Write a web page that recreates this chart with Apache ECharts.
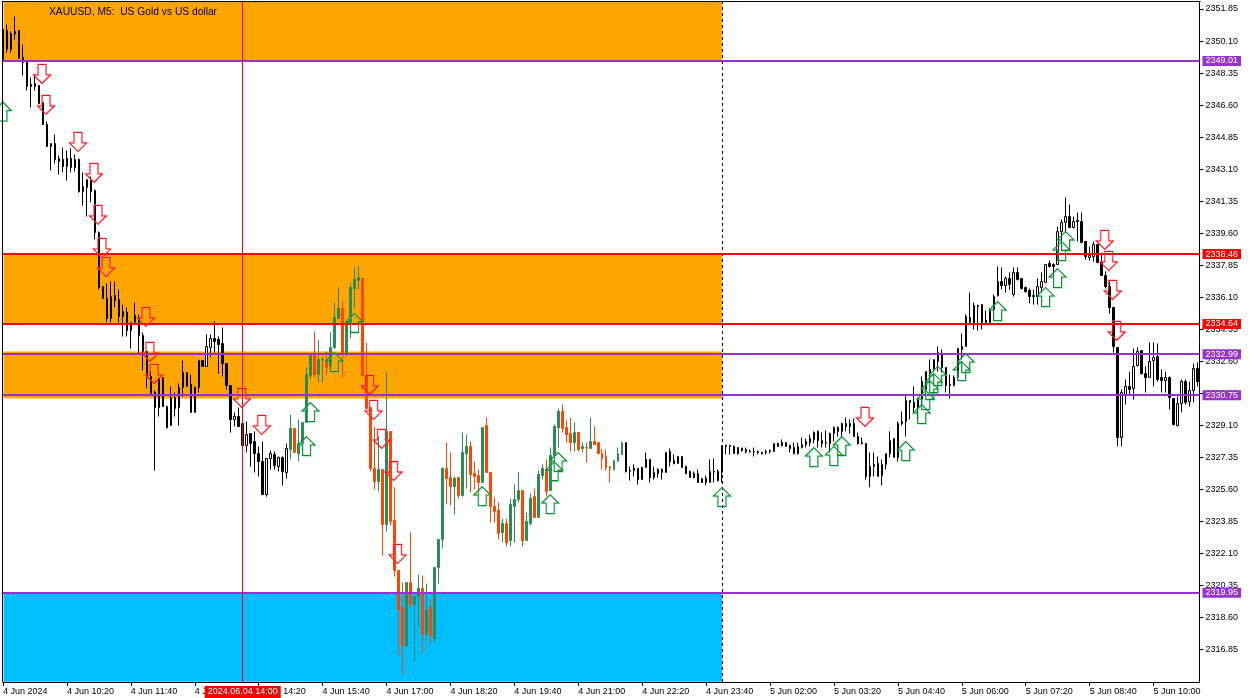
<!DOCTYPE html>
<html><head><meta charset="utf-8">
<style>html,body{margin:0;padding:0;background:#fff}#c{width:1254px;height:698px}</style>
<script src="https://cdn.jsdelivr.net/npm/echarts@6/dist/echarts.min.js"></script>
</head><body><div id="c"></div>
<script>
const chartTitle = 'XAUUSD, M5:  US Gold vs US dollar';
const priceTicks = [2351.85,2350.10,2348.35,2346.60,2344.85,2343.10,2341.35,2339.60,2337.85,2336.10,2334.35,2332.60,2330.85,2329.10,2327.35,2325.60,2323.85,2322.10,2320.35,2318.60,2316.85];
const timeTickBars = [0,16,32,48,64,80,96,112,128,144,160,176,192,208,224,240,256,272,288];
const timeTickLabels = ['4 Jun 2024','4 Jun 10:20','4 Jun 11:40','4 Jun 13:00','4 Jun 14:20','4 Jun 15:40','4 Jun 17:00','4 Jun 18:20','4 Jun 19:40','4 Jun 21:00','4 Jun 22:20','4 Jun 23:40','5 Jun 02:00','5 Jun 03:20','5 Jun 04:40','5 Jun 06:00','5 Jun 07:20','5 Jun 08:40','5 Jun 10:00'];
// rows: open, close, low, high
const morningBars = [
[2350.73,2349.09,2347.62,2351.01],[2350.68,2349.64,2349.47,2351.01],[2349.64,2350.51,2349.47,2350.62],[2350.49,2350.62,2350.18,2351.44],
[2350.68,2349.15,2349.15,2350.68],[2349.20,2348.93,2348.22,2349.91],[2348.98,2347.62,2347.40,2348.98],[2347.73,2347.62,2346.47,2348.11],
[2347.78,2347.62,2347.40,2348.27],[2347.67,2346.69,2346.64,2347.67],[2346.74,2345.54,2345.54,2346.74],[2345.54,2344.34,2344.34,2345.70],
[2344.34,2344.50,2343.03,2344.50],[2344.50,2343.63,2343.41,2344.99],[2343.68,2343.52,2342.81,2343.85],[2343.63,2343.24,2342.92,2344.28],
[2343.24,2343.68,2342.48,2344.12],[2343.68,2343.19,2342.92,2344.23],[2343.19,2343.63,2342.97,2343.90],[2343.63,2341.88,2341.82,2343.68],
[2341.88,2342.15,2341.11,2342.92],[2342.10,2342.53,2340.51,2342.53],[2342.48,2341.88,2341.28,2342.70],[2341.93,2339.64,2339.26,2341.99],
[2339.64,2336.63,2336.52,2339.69],[2336.69,2336.03,2336.03,2336.69],[2336.03,2334.94,2334.73,2336.85],[2334.94,2336.14,2334.73,2336.96],
[2336.19,2335.92,2335.54,2336.96],[2335.98,2335.05,2334.73,2336.52],[2335.05,2335.32,2333.96,2335.70],[2335.27,2334.28,2333.96,2335.54],
[2334.28,2334.73,2333.30,2334.73],[2334.73,2335.11,2334.73,2335.81],[2335.00,2334.01,2333.03,2335.16],[2334.01,2333.14,2332.10,2334.18],
[2333.14,2331.77,2331.12,2333.14],[2331.77,2330.84,2330.84,2332.04],[2330.90,2330.07,2326.63,2331.01],[2330.07,2331.66,2329.59,2331.72],
[2331.72,2330.13,2330.13,2331.72],[2330.13,2328.98,2328.93,2330.18],[2329.09,2330.62,2329.09,2331.23],[2330.62,2330.02,2329.59,2330.90],
[2330.07,2331.17,2329.09,2331.39],[2331.17,2331.99,2330.68,2332.64],[2331.99,2331.23,2331.23,2331.99],[2331.34,2329.81,2329.81,2331.88],
[2329.81,2331.17,2329.81,2331.23],[2331.17,2332.64,2330.90,2332.64],[2332.64,2332.32,2332.32,2332.64],[2332.32,2333.41,2332.32,2334.07],
[2333.36,2333.85,2332.81,2334.07],[2333.85,2333.68,2333.08,2334.78],[2333.79,2333.52,2331.93,2333.96],[2333.57,2332.48,2331.77,2334.45],
[2332.48,2331.28,2331.06,2332.48],[2331.28,2329.42,2328.71,2331.28],[2329.42,2329.59,2329.04,2329.81],[2329.59,2329.04,2329.04,2330.07],
[2329.20,2328.00,2328.00,2329.20],[2328.00,2328.60,2327.62,2329.31],[2328.66,2328.11,2326.85,2328.66],[2328.22,2327.56,2326.53,2328.77],
[2327.56,2327.13,2326.31,2327.95],[2327.13,2325.32,2325.32,2328.22],[2325.32,2327.29,2325.21,2327.29],[2327.29,2327.56,2326.69,2327.73],
[2327.51,2326.91,2326.69,2327.67],[2326.85,2327.35,2326.58,2327.40],[2327.35,2326.58,2325.82,2327.40],[2326.53,2327.84,2326.20,2328.11]
];
const sessionBars = [
[2327.78,2328.93,2327.24,2329.69],[2328.93,2327.62,2327.62,2328.93],[2327.56,2328.11,2327.13,2329.42],[2328.11,2329.26,2327.73,2329.26],
[2329.26,2331.88,2329.26,2332.26],[2331.83,2332.92,2331.61,2332.92],[2332.92,2331.88,2331.72,2334.23],[2331.88,2332.70,2331.45,2333.74],
[2332.67,2332.70,2331.45,2332.86],[2332.64,2332.26,2331.83,2333.14],[2332.32,2333.36,2332.32,2334.18],[2333.36,2335.00,2333.25,2335.81],
[2334.94,2335.49,2334.94,2336.63],[2335.49,2332.97,2331.72,2335.92],[2333.03,2334.73,2332.86,2334.73],[2334.73,2336.63,2333.85,2336.90],
[2336.58,2337.07,2335.49,2337.78],[2337.02,2337.18,2336.52,2337.84],[2337.13,2331.83,2331.77,2337.18],[2331.83,2330.02,2330.02,2333.63],
[2330.07,2326.75,2326.58,2330.07],[2326.75,2326.03,2325.60,2329.04],[2326.03,2326.69,2325.49,2328.49],[2326.69,2323.68,2321.99,2326.69],
[2323.68,2328.77,2323.30,2332.04],[2328.77,2323.85,2323.63,2328.77],[2323.90,2321.17,2320.84,2325.71],[2321.17,2319.04,2316.53,2321.17],
[2319.15,2317.07,2315.49,2320.51],[2317.07,2320.51,2316.96,2320.51],[2320.51,2319.31,2319.15,2323.25],[2319.31,2319.75,2316.20,2319.75],
[2319.75,2320.19,2318.11,2320.95],[2320.19,2317.67,2316.69,2320.90],[2317.73,2318.99,2317.40,2320.46],[2319.15,2317.62,2317.13,2319.59],
[2317.46,2321.34,2317.24,2321.34],[2321.34,2322.87,2320.46,2322.87],[2322.87,2326.75,2322.37,2326.80],[2326.75,2326.20,2324.78,2328.16],
[2326.25,2325.76,2324.72,2327.62],[2325.76,2326.20,2324.23,2326.31],[2326.25,2325.27,2325.10,2326.25],[2325.27,2327.62,2325.21,2328.71],
[2327.56,2327.95,2325.65,2328.60],[2327.95,2326.42,2325.43,2328.22],[2326.47,2326.31,2325.60,2327.13],[2326.36,2325.98,2325.21,2326.69],
[2325.98,2328.98,2325.98,2328.98],[2329.09,2326.53,2326.53,2329.53],[2326.53,2324.67,2323.79,2326.53],[2324.67,2324.39,2323.79,2325.16],
[2324.45,2323.19,2322.87,2324.89],[2323.25,2323.74,2322.70,2324.01],[2323.74,2322.70,2322.48,2324.01],[2322.81,2324.78,2322.48,2325.10],
[2324.67,2325.05,2322.70,2325.87],[2325.05,2325.54,2324.89,2326.53],[2325.54,2322.81,2322.48,2325.54],[2322.81,2323.85,2322.81,2324.34],
[2323.74,2325.10,2323.63,2325.38],[2325.21,2324.07,2324.07,2325.65],[2324.07,2326.42,2324.07,2326.63],[2326.36,2326.75,2326.14,2326.97],
[2326.69,2325.49,2325.21,2327.24],[2325.54,2327.46,2325.54,2327.89],[2327.46,2329.04,2327.13,2329.15],[2328.98,2329.86,2327.89,2330.02],
[2329.86,2328.93,2328.71,2330.24],[2328.98,2328.60,2328.16,2329.37],[2328.66,2328.16,2327.67,2329.53],[2328.16,2328.71,2327.67,2329.26],
[2328.71,2327.78,2327.67,2328.71],[2327.84,2327.95,2327.62,2328.16],[2327.89,2327.86,2327.07,2328.16],[2327.84,2328.22,2327.84,2329.53],
[2328.22,2328.05,2328.05,2329.04],[2328.16,2327.56,2327.51,2328.16],[2327.56,2327.29,2326.69,2327.78],[2327.40,2326.80,2326.63,2327.78],
[2326.85,2326.75,2325.98,2326.85],[2326.69,2327.18,2326.63,2327.18],[2327.13,2327.56,2327.13,2327.89],[2327.51,2328.16,2327.51,2328.22]
];
const eveningBars = [
[2328.16,2326.58,2326.53,2328.16],[2326.63,2326.60,2326.09,2326.85],[2326.75,2326.63,2326.31,2326.97],[2326.75,2326.14,2325.87,2326.75],
[2326.14,2326.80,2326.14,2326.85],[2326.80,2327.24,2326.80,2327.62],[2327.24,2326.25,2325.98,2327.24],[2326.25,2326.53,2326.14,2326.85],
[2326.47,2326.69,2326.25,2326.75],[2326.69,2326.53,2326.14,2326.75],[2326.53,2327.62,2326.53,2327.62],[2327.67,2327.13,2326.85,2327.84],
[2327.18,2327.02,2326.97,2327.51],[2327.02,2327.40,2327.02,2327.40],[2327.40,2326.80,2326.80,2327.40],[2326.85,2326.47,2326.42,2326.91],
[2326.58,2326.25,2326.25,2326.63],[2326.25,2326.47,2326.20,2326.58],[2326.47,2325.98,2325.98,2326.69],[2326.20,2325.98,2325.98,2326.20],
[2326.20,2325.98,2325.82,2326.36],[2325.98,2326.58,2325.98,2327.24],[2326.58,2326.55,2325.98,2327.29],[2326.58,2326.09,2326.03,2326.69],
[2326.53,2328.00,2325.98,2328.00],[2328.00,2327.95,2327.51,2328.05],[2327.95,2328.00,2327.51,2328.05],[2327.95,2327.56,2327.56,2328.00],
[2327.89,2327.56,2327.51,2327.89],[2327.84,2327.73,2327.67,2327.89],[2327.78,2327.67,2327.56,2327.89],[2327.67,2327.65,2327.62,2327.78],
[2327.67,2327.65,2327.40,2327.89],[2327.67,2327.62,2327.51,2327.73],[2327.62,2327.56,2327.51,2327.65],[2327.62,2327.67,2327.51,2327.78],
[2327.67,2327.73,2327.56,2327.78],[2327.67,2328.11,2327.67,2328.11],[2328.11,2327.95,2327.95,2328.16],[2328.16,2328.00,2327.95,2328.33],
[2328.16,2327.95,2327.95,2328.16],[2328.00,2327.84,2327.62,2328.05],[2327.89,2327.56,2327.51,2328.16],[2327.56,2327.95,2327.51,2328.16],
[2327.89,2328.05,2327.84,2328.44],[2328.05,2328.22,2327.89,2328.38],[2328.16,2328.38,2327.95,2328.60],[2328.33,2328.71,2328.11,2328.77],
[2328.77,2328.27,2327.89,2328.82],[2328.27,2328.11,2327.89,2328.71],[2328.16,2328.14,2327.89,2328.82],[2328.11,2328.66,2327.62,2328.71],
[2328.66,2328.98,2328.22,2329.04],[2328.98,2328.77,2328.49,2329.04],[2328.77,2329.20,2328.49,2329.26],[2329.20,2329.04,2328.77,2329.53],
[2329.04,2329.20,2328.66,2329.42],[2329.20,2328.49,2328.49,2329.48],[2328.49,2328.11,2328.05,2328.71],[2328.16,2328.11,2328.05,2328.44],
[2328.11,2326.31,2326.14,2328.11],[2326.31,2326.85,2325.71,2327.62],[2326.85,2326.97,2326.31,2327.62],[2327.02,2326.31,2326.31,2327.40],
[2326.36,2326.97,2325.82,2327.24],[2326.97,2327.56,2326.69,2327.56],[2327.56,2328.27,2327.35,2328.77],[2328.38,2327.35,2327.35,2328.38],
[2327.35,2329.20,2327.13,2329.31],[2329.20,2329.31,2329.09,2329.86],[2329.31,2330.46,2328.49,2330.73],[2330.46,2330.35,2329.42,2330.46],
[2330.35,2330.07,2329.81,2331.23],[2330.07,2330.51,2329.42,2330.62],[2330.51,2331.50,2330.18,2331.77],[2331.06,2332.04,2330.95,2332.04],
[2332.15,2331.99,2331.45,2332.70],[2332.21,2332.70,2332.04,2332.70],[2332.59,2333.08,2332.04,2333.41],[2333.03,2332.26,2331.99,2333.25],
[2332.26,2331.28,2330.90,2332.26],[2331.28,2331.34,2330.57,2331.88],[2331.28,2331.72,2331.23,2331.83],[2331.72,2333.30,2331.61,2333.30],
[2333.25,2333.41,2332.70,2334.12],[2333.41,2335.05,2333.41,2335.16],[2335.00,2334.73,2334.67,2336.36],[2334.62,2335.65,2334.34,2335.81],
[2335.59,2335.65,2334.28,2335.70],[2335.70,2334.73,2334.34,2335.70],[2334.84,2334.73,2334.67,2335.38],[2334.73,2335.43,2334.62,2335.49],
[2335.43,2336.14,2335.27,2336.25],[2336.19,2336.96,2336.14,2337.78],[2336.96,2336.74,2336.52,2337.73],[2336.74,2337.13,2336.36,2337.24],
[2337.13,2336.80,2336.52,2337.46],[2336.25,2337.46,2336.14,2337.73],[2337.46,2337.07,2337.02,2337.73],[2337.13,2336.58,2336.52,2337.13],
[2336.63,2336.41,2336.36,2336.69],[2336.47,2336.14,2335.76,2336.58],[2336.19,2336.14,2335.70,2336.52],[2336.14,2336.69,2335.70,2337.13],
[2336.63,2336.96,2336.36,2337.46],[2336.91,2337.89,2336.91,2337.89],[2337.95,2337.78,2337.73,2338.11],[2337.89,2337.78,2337.24,2337.95],
[2337.89,2339.69,2337.89,2339.96],[2339.69,2340.19,2338.71,2340.35],[2340.19,2340.51,2339.64,2341.55],[2340.51,2339.91,2339.91,2341.17],
[2339.91,2340.24,2339.86,2340.51],[2340.30,2340.24,2339.15,2340.73],[2340.24,2339.10,2339.04,2340.73],[2339.15,2338.33,2338.16,2339.15],
[2338.27,2338.38,2338.11,2338.87],[2338.33,2338.98,2338.05,2339.15],[2338.98,2338.00,2337.95,2338.98],[2338.00,2337.29,2337.29,2338.44],
[2337.29,2336.69,2336.58,2337.51],[2336.69,2335.54,2335.21,2336.96],[2335.54,2333.41,2333.08,2335.59],[2333.36,2328.44,2327.95,2333.36],
[2328.44,2330.90,2327.95,2331.06],[2330.79,2331.23,2330.24,2331.61],[2331.23,2331.06,2330.79,2332.04],[2331.12,2332.32,2330.51,2333.30],
[2332.37,2333.14,2332.32,2333.36],[2333.19,2331.93,2331.88,2333.19],[2331.93,2331.72,2330.90,2332.32],[2331.72,2332.59,2331.72,2333.63],
[2332.64,2332.81,2331.23,2333.63],[2332.86,2331.61,2331.50,2333.57],[2331.72,2331.55,2330.90,2332.15],[2331.55,2331.72,2330.90,2332.04],
[2331.72,2330.62,2329.97,2331.77],[2330.57,2329.15,2329.09,2330.57],[2329.09,2330.29,2329.04,2330.68],[2330.29,2331.50,2329.81,2331.61],
[2331.50,2330.35,2330.24,2331.61],[2330.40,2331.01,2330.13,2331.50],[2331.01,2332.21,2330.35,2332.48],[2332.21,2331.50,2331.23,2332.54]
];
// [bar, price]
const sellArrows = [[10,2348.30],[11,2346.61],[19,2344.58],[23,2342.89],[24,2340.60],[25,2338.79],[26,2337.75],[36,2335.02],[37,2333.11],[38,2331.91],[60,2330.60],[65,2329.12],[92,2331.31],[93,2329.94],[95,2328.36],[98,2326.60],[99,2322.07],[216,2329.56],[276,2339.23],[277,2338.08],[278,2336.50],[279,2334.26]];
const buyArrows = [[0,2346.25],[76,2327.97],[77,2329.83],[83,2332.56],[88,2334.70],[120,2325.24],[137,2324.80],[138,2326.60],[139,2327.10],[180,2325.19],[203,2327.37],[208,2327.43],[210,2327.97],[226,2327.70],[230,2329.72],[231,2330.49],[232,2331.03],[233,2331.41],[234,2331.80],[240,2332.07],[241,2332.51],[249,2335.35],[261,2336.12],[264,2337.15],[265,2338.63],[266,2339.18]];
// [bar from, bar to, price top, price bottom, colour]
const zones = [
 [0.15,180,2352.24,2349.01,'#FFA500'],
 [0.15,180,2338.46,2334.64,'#FFA500'],
 [0.15,180,2333.14,2330.57,'#FFA500'],
 [0.15,180,2320.00,2315.10,'#00BFFF']
];
const redLevels = [2338.46,2334.64];
const purpleLevels = [2349.01,2332.99,2330.75,2319.95];
const cursorBar = 60, cursorLabel = '2024.06.04 14:00', separatorBar = 180;

const FONT = '"Liberation Sans"';
const ARROW_DOWN = 'path://M4.5 0H12.5V10.5H17L8.5 19L0 10.5H4.5Z';
const ARROW_UP = 'path://M8.5 0L17 8.5H12.5V19H4.5V8.5H0Z';
const withBar = (rows, start) => rows.map((r, k) => [start + k].concat(r));
const levelLine = (v, col) => ({
  yAxis: v,
  lineStyle: {color: col, width: 2, type: 'solid'},
  label: {show: true, position: 'end', formatter: v.toFixed(2), color: '#fff', backgroundColor: col,
          fontFamily: FONT, fontSize: 9, lineHeight: 10, padding: [0, 3, 0, 3], distance: 3}
});
const option = {
  animation: false,
  backgroundColor: '#fff',
  title: {text: chartTitle, left: 49, top: 7, padding: 0, textStyle: {fontFamily: FONT, fontSize: 10.25, fontWeight: 'normal', color: '#000'}},
  grid: {left: 1.5, top: 1.5, width: 1198, height: 680.5, show: false},
  xAxis: {
    type: 'value', min: 0, max: 299.5,
    axisLine: {onZero: false, lineStyle: {color: '#000'}},
    axisTick: {show: true, length: 4, lineStyle: {color: '#000'}, customValues: timeTickBars},
    axisLabel: {color: '#000', fontFamily: FONT, fontSize: 9, align: 'left', margin: 5, customValues: timeTickBars,
      formatter: v => timeTickLabels[timeTickBars.indexOf(v)] || ''},
    splitLine: {show: false}
  },
  yAxis: {
    type: 'value', position: 'right', min: 2315.08, max: 2352.26,
    axisLine: {show: true, onZero: false, lineStyle: {color: '#000'}},
    axisTick: {show: true, length: 4, lineStyle: {color: '#000'}, customValues: priceTicks},
    axisLabel: {color: '#000', fontFamily: FONT, fontSize: 9, margin: 6, customValues: priceTicks, formatter: v => v.toFixed(2)},
    splitLine: {show: false}
  },
  series: [
    {type: 'custom', z: 1, clip: true, silent: true, coordinateSystem: 'cartesian2d',
     encode: {x: [0, 1], y: [2, 3]},
     data: zones,
     renderItem: (p, api) => {
       const a = api.coord([api.value(0), api.value(2)]), b = api.coord([api.value(1), api.value(3)]);
       return {type: 'rect', shape: {x: a[0], y: a[1], width: b[0] - a[0], height: b[1] - a[1]}, style: {fill: zones[p.dataIndex][4]}};
     }},
    {type: 'candlestick', name: 'mono', z: 2, barWidth: 2, silent: true,
     data: withBar(morningBars, 0).concat(withBar(eveningBars, 156)),
     itemStyle: {color: '#fff', color0: '#000', borderColor: '#000', borderColor0: '#000', borderColorDoji: '#000', borderWidth: 1}},
    {type: 'candlestick', name: 'session', z: 2, barWidth: 2, silent: true,
     data: withBar(sessionBars, 72),
     itemStyle: {color: '#2E8B57', color0: '#FF4500', borderColor: '#2E8B57', borderColor0: '#FF4500', borderColorDoji: '#2E8B57', borderWidth: 1}},
    {type: 'scatter', z: 6, silent: true, symbol: ARROW_DOWN, symbolSize: [17, 19], symbolOffset: [-0.8, 0], data: sellArrows,
     itemStyle: {color: 'rgba(0,0,0,0)', borderColor: '#FF1010', borderWidth: 1, opacity: 1, shadowColor: 'rgba(255,130,190,.6)', shadowBlur: 0, shadowOffsetX: -0.7, shadowOffsetY: -0.7}},
    {type: 'scatter', z: 6, silent: true, symbol: ARROW_UP, symbolSize: [17, 19], symbolOffset: [-0.2, 0], data: buyArrows,
     itemStyle: {color: 'rgba(0,0,0,0)', borderColor: '#108A10', borderWidth: 1, opacity: 1, shadowColor: 'rgba(60,220,230,.6)', shadowBlur: 0, shadowOffsetX: 0.7, shadowOffsetY: 0.7}},
    {type: 'line', z: 5, silent: true, clip: false, data: [], symbol: 'none',
     markLine: {silent: true, symbol: 'none', animation: false, precision: 2, data:
       redLevels.map(v => levelLine(v, '#FF0000')).concat(purpleLevels.map(v => levelLine(v, '#9932CC')))}},
    {type: 'line', z: 5, silent: true, clip: false, data: [], symbol: 'none',
     markLine: {silent: true, symbol: 'none', animation: false, lineStyle: {color: '#000', width: 1, type: [3, 3]}, label: {show: false},
       data: [{xAxis: separatorBar}]}},
    {type: 'line', z: 5, silent: true, clip: false, data: [], symbol: 'none',
     markLine: {silent: true, symbol: 'none', animation: false, lineStyle: {color: '#FF0000', width: 1, type: 'solid', opacity: 1},
       label: {show: true, position: 'start', formatter: cursorLabel, color: '#fff', backgroundColor: '#FF0000', fontFamily: FONT, fontSize: 9, lineHeight: 12, padding: [0, 3, 0, 3], distance: 4},
       data: [{xAxis: cursorBar}]}}
  ],
  graphic: [
    {type: 'rect', z: 30, silent: true, shape: {x: 2, y: 1, width: 1, height: 681}, style: {fill: '#000'}},
    {type: 'rect', z: 30, silent: true, shape: {x: 2, y: 1, width: 1198.5, height: 1}, style: {fill: '#000'}},
    {type: 'group', left: 7, top: 7, z: 20, silent: true, children: [
      {type: 'rect', shape: {x: 0, y: 0, width: 14.5, height: 10}, style: {fill: '#fff', stroke: '#2a6fb5', lineWidth: 1}},
      {type: 'rect', shape: {x: 2, y: 2, width: 4, height: 1}, style: {fill: '#d9534f'}},
      {type: 'rect', shape: {x: 2, y: 5, width: 4, height: 1}, style: {fill: '#d9534f'}},
      {type: 'rect', shape: {x: 2, y: 8, width: 4, height: 1}, style: {fill: '#d9534f'}},
      {type: 'rect', shape: {x: 8, y: 2, width: 5, height: 1}, style: {fill: '#2a6fb5'}},
      {type: 'rect', shape: {x: 8, y: 5, width: 5, height: 1}, style: {fill: '#2a6fb5'}},
      {type: 'rect', shape: {x: 8, y: 8, width: 5, height: 1}, style: {fill: '#2a6fb5'}}
    ]},
    {type: 'group', left: 28, top: 7, z: 20, silent: true, children: [
      {type: 'rect', shape: {x: 0, y: 0, width: 6.5, height: 10}, style: {fill: '#ffe9d8', stroke: '#d9534f', lineWidth: 1}},
      {type: 'rect', shape: {x: 8.5, y: 0, width: 6.5, height: 10}, style: {fill: '#bfe0f5', stroke: '#2a6fb5', lineWidth: 1}},
      {type: 'rect', shape: {x: 4, y: -0.5, width: 7, height: 3}, style: {fill: '#fff', stroke: '#aaa', lineWidth: 1}}
    ]}
  ]
};
echarts.init(document.getElementById('c'), null, {renderer: 'canvas'}).setOption(option);
</script></body></html>
